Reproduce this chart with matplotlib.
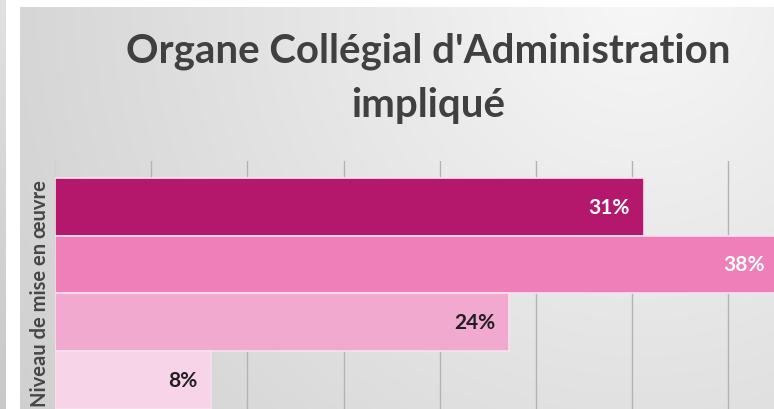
import numpy as np
import matplotlib
matplotlib.use("Agg")
import matplotlib.pyplot as plt

# data (bars from top to bottom)
levels = ["Niveau 1", "Niveau 2", "Niveau 3", "Niveau 4"]
values = [30.6, 37.6, 23.6, 8.1]
bar_colors = ["#b4186c", "#ee7fb9", "#f2a9d0", "#f8d4e8"]
label_colors = ["white", "white", "#1f1f1f", "#1f1f1f"]
title_lines = ["Organe Collégial d'Administration", "impliqué"]
ylabel = "Niveau de mise en œuvre"

W, H = 774, 410
plt.rcParams["font.family"] = ["Lato", "DejaVu Sans"]

fig = plt.figure(figsize=(W / 100, H / 100), dpi=100)
fig.patch.set_facecolor("white")

def box(x0, y0, x1, y1):
    # pixel box -> figure fraction [left, bottom, width, height]
    return [x0 / W, 1 - y1 / H, (x1 - x0) / W, (y1 - y0) / H]

# thin grey strip at the far left
strip = fig.add_axes(box(0, 0, 6, H))
g = np.linspace(225, 200, 200).reshape(-1, 1) / 255
strip.imshow(np.dstack([g, g, g]), aspect="auto", extent=[0, 1, 0, 1])
strip.axis("off")

# chart area background, light at top right, darker to bottom left
bg = fig.add_axes(box(20, 8, W, H))
xx, yy = np.meshgrid(np.linspace(20, W, 300), np.linspace(8, H, 200))
d = np.sqrt((xx - 640) ** 2 + (yy - 0) ** 2)
v = np.clip(247 - 0.053 * d, 0, 255) / 255
bg.imshow(np.dstack([v, v, v]), aspect="auto", extent=[0, 1, 0, 1], origin="upper")
bg.axis("off")

ax = fig.add_axes(box(55, 162, W, H))
ax.set_facecolor("none")
y = np.arange(len(values))
ax.barh(y, values, height=1.0, color=bar_colors, edgecolor="#f9e1ee", linewidth=1.2, zorder=3)

for yi, val, c in zip(y, values, label_colors):
    ax.annotate("{:.0f}%".format(val), xy=(val, yi), xytext=(-10, 0), textcoords="offset points",
                ha="right", va="center", color=c, fontsize=15, fontweight="bold",
                annotation_clip=False, zorder=4)

ax.set_xlim(0, (W - 55) / 19.24)
ax.set_ylim(3.5, -0.79)
ax.set_xticks(np.arange(5, 40, 5))
ax.grid(axis="x", color="#b3b3b3", linewidth=1, zorder=0)
ax.tick_params(left=False, bottom=False, labelleft=False, labelbottom=False)
for s in ["top", "right", "bottom"]:
    ax.spines[s].set_visible(False)
ax.spines["left"].set_color("#cfcfcf")
ax.spines["left"].set_linewidth(1)

fig.text(40 / W, 1 - 294 / H, ylabel, rotation=90, ha="center", va="center",
         fontsize=14.5, fontweight="bold", color="#474747")

fig.text(428 / W, 1 - 63 / H, title_lines[0], ha="center", va="baseline", fontsize=29,
         fontweight="bold", color="#404040")
fig.text(428 / W, 1 - 117 / H, title_lines[1], ha="center", va="baseline", fontsize=29,
         fontweight="bold", color="#404040")

fig.savefig("out.png", dpi=100)
